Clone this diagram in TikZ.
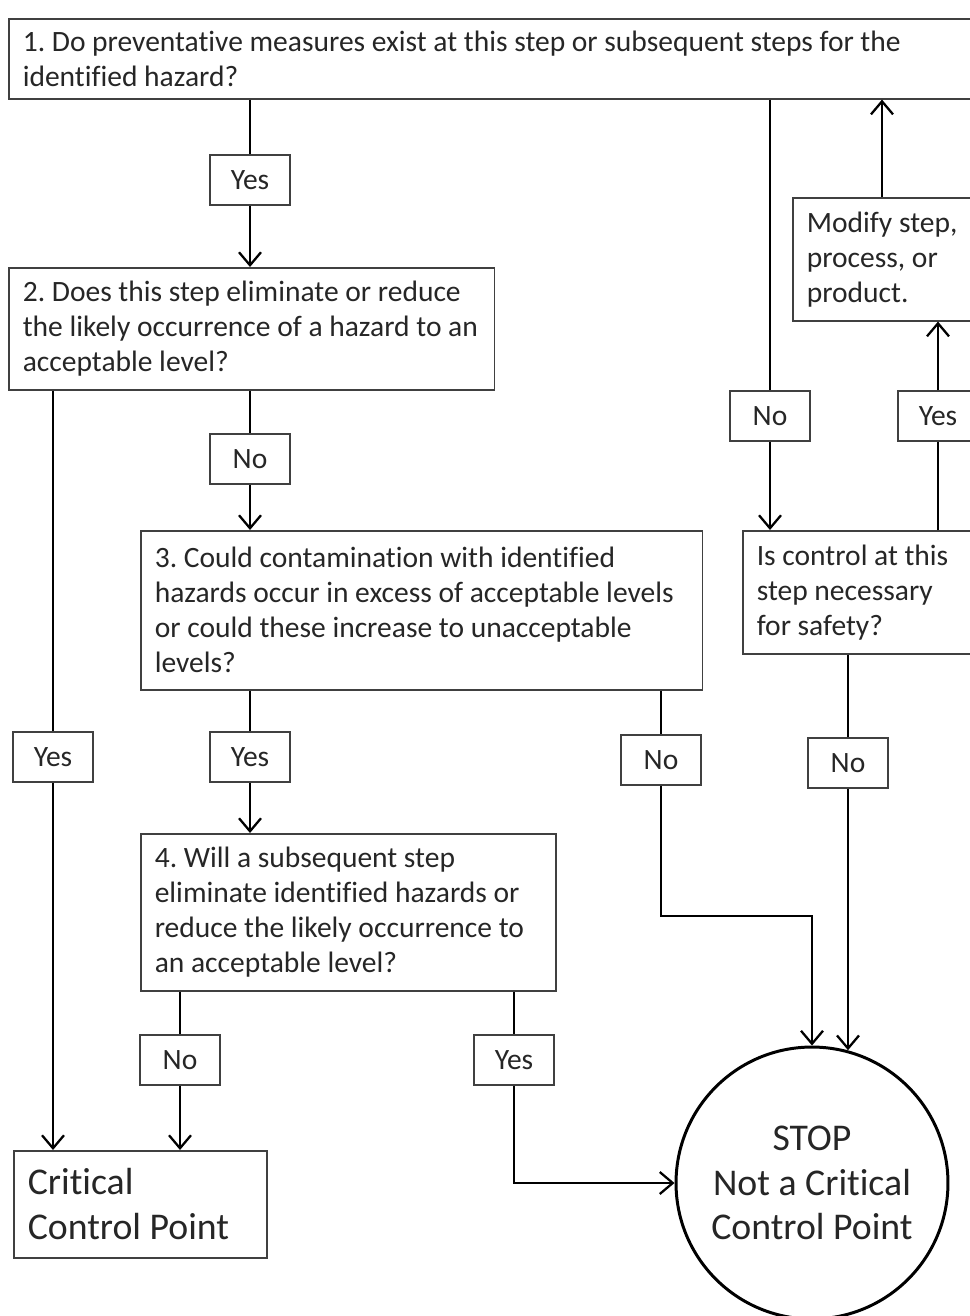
\documentclass[tikz,border=0pt]{standalone}
\usepackage{fontspec}
\setmainfont{Carlito}[Ligatures=NoCommon]
\usetikzlibrary{arrows.meta}
\frenchspacing

\begin{document}
\begin{tikzpicture}[x=0.02cm,y=-0.02cm,
    font=\fontsize{16.8}{19.9}\selectfont, text=black!85,
    qbox/.style={draw=black!75,line width=0.9pt,anchor=north west,align=flush left,
                 inner xsep=0.28cm,inner ysep=0pt},
    lbl/.style={draw=black!75,line width=0.9pt,minimum width=1.6cm,minimum height=1cm,inner sep=0pt},
    link/.style={line width=1.3pt},
    arr/.style={link,-{Straight Barb[length=2.6mm,width=4.4mm]}}]

  % Page frame, same size as the reference
  \useasboundingbox (0,0) rectangle (970,1316);
  \clip (0,0) rectangle (970,1316);

  % Question boxes
  \node[qbox,text width=18.78cm,minimum height=1.6cm] (q1) at (8,18)
    {1. Do preventative measures exist at this step or subsequent steps for the\\identified hazard?};
  \node[qbox,text width=9.16cm,minimum height=2.44cm] (q2) at (8,267)
    {2. Does this step eliminate or reduce\\the likely occurrence of a hazard to an\\acceptable level?};
  \node[qbox,text width=10.68cm,minimum height=3.18cm] (q3) at (140,530)
    {3. Could contamination with identified\\hazards occur in excess of acceptable levels\\or could these increase to unacceptable\\levels?};
  \node[qbox,text width=7.74cm,minimum height=3.14cm] (q4) at (140,833)
    {4. Will a subsequent step\\eliminate identified hazards or\\reduce the likely occurrence to\\an acceptable level?};
  \node[qbox,text width=3.1cm,minimum height=2.46cm] (modify) at (792,197)
    {Modify step,\\process, or\\product.};
  \node[qbox,text width=4.1cm,minimum height=2.46cm] (ctrl) at (742,530)
    {Is control at this\\step necessary\\for safety?};

  % End points
  \node[qbox,text width=4.5cm,minimum height=2.14cm,
        font=\fontsize{21.5}{25.5}\selectfont] (ccp) at (13,1150)
    {Critical\\Control Point};
  \node[circle,draw=black,line width=1.7pt,minimum size=5.44cm,align=center,
        font=\fontsize{21.5}{25.5}\selectfont] (stop) at (812,1183)
    {STOP\\Not a Critical\\Control Point};

  % Answer labels
  \node[lbl] (yesA) at (250,180)  {Yes};
  \node[lbl] (noA)  at (770,416)  {No};
  \node[lbl] (yesB) at (938,416)  {Yes};
  \node[lbl] (noB)  at (250,459)  {No};
  \node[lbl] (yesC) at (53,757)   {Yes};
  \node[lbl] (yesD) at (250,757)  {Yes};
  \node[lbl] (noC)  at (661,760)  {No};
  \node[lbl] (noD)  at (848,763)  {No};
  \node[lbl] (noE)  at (180,1060) {No};
  \node[lbl] (yesE) at (514,1060) {Yes};

  % Question 1
  \draw[link] (q1.south -| yesA) -- (yesA.north);
  \draw[arr]  (yesA.south) -- (q2.north -| yesA);
  \draw[link] (q1.south -| noA) -- (noA.north);
  \draw[arr]  (noA.south) -- (ctrl.north -| noA);

  % Control needed? loop back through modify
  \draw[link] (ctrl.north -| yesB) -- (yesB.south);
  \draw[arr]  (yesB.north) -- (modify.south -| yesB);
  \coordinate (back) at (882,197);
  \draw[arr]  (back) -- (q1.south -| back);
  \draw[link] (ctrl.south -| noD) -- (noD.north);
  \draw[arr]  (noD.south) -- (noD.south |- stop.75);

  % Question 2
  \draw[link] (q2.south -| yesC) -- (yesC.north);
  \draw[arr]  (yesC.south) -- (ccp.north -| yesC);
  \draw[link] (q2.south -| noB) -- (noB.north);
  \draw[arr]  (noB.south) -- (q3.north -| noB);

  % Question 3
  \draw[link] (q3.south -| yesD) -- (yesD.north);
  \draw[arr]  (yesD.south) -- (q4.north -| yesD);
  \draw[link] (q3.south -| noC) -- (noC.north);
  \coordinate (bend) at (812,916);
  \draw[arr]  (noC.south) |- (bend) -- (stop.north);

  % Question 4
  \draw[link] (q4.south -| noE) -- (noE.north);
  \draw[arr]  (noE.south) -- (ccp.north -| noE);
  \draw[link] (q4.south -| yesE) -- (yesE.north);
  \draw[arr]  (yesE.south) |- (stop.west);

\end{tikzpicture}
\end{document}
